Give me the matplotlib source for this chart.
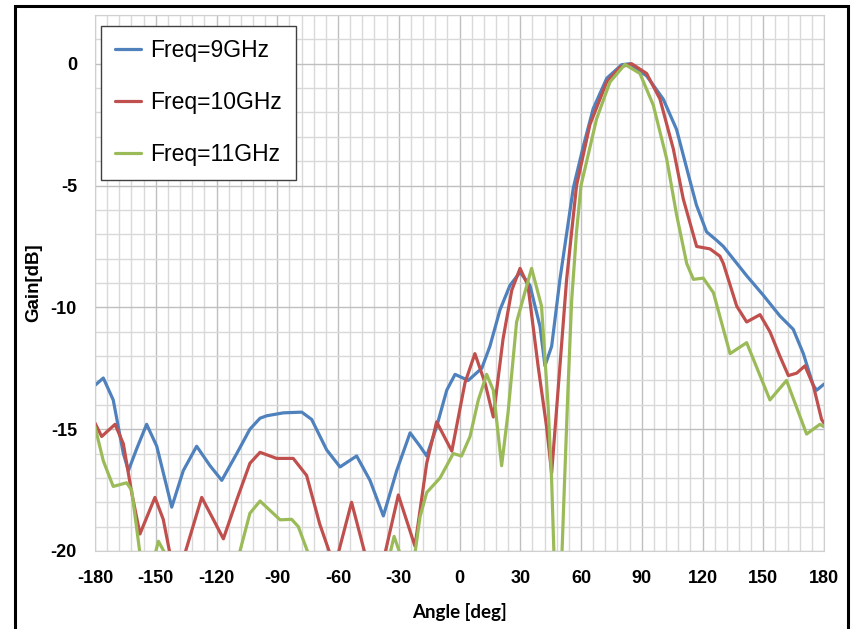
import matplotlib.pyplot as plt
from matplotlib.patches import Rectangle
from matplotlib.ticker import MultipleLocator

plt.rcParams['font.family'] = ['Liberation Sans', 'DejaVu Sans']
plt.rcParams['axes.unicode_minus'] = False

# 9 GHz
ang9 = [-180, -175.9, -171, -166, -163.5, -159.4, -154.5, -149.5, -142.1, -136.4, -129.8, -123.2, -117.4, -110,
        -103.5, -98.5, -95.2, -87, -77.9, -73, -65.6, -59, -50.8, -44.2, -37.6, -31, -24.4, -19.5, -16.2, -11.3,
        -6.3, -2.2, 4.3, 11, 15, 20, 24.9, 29.9, 34.8, 39.8, 42.2, 45.5, 49.6, 56.2, 61.1, 66, 72.7, 80.1, 84.2,
        92.4, 100.6, 107.2, 113.8, 117, 122, 127, 130.3, 141.8, 150, 158.2, 164.8, 169.8, 174.7, 176.4, 180]
gain9 = [-13.2, -12.9, -13.8, -16.0, -16.7, -15.8, -14.8, -15.7, -18.2, -16.7, -15.7, -16.5, -17.1, -16.0,
         -15.0, -14.55, -14.45, -14.33, -14.3, -14.6, -15.85, -16.55, -16.1, -17.1, -18.56, -16.7, -15.15, -15.7, -16.1, -14.9,
         -13.4, -12.75, -13.0, -12.5, -11.6, -10.1, -9.1, -8.56, -9.1, -10.8, -12.4, -11.6, -8.85, -5.1, -3.4, -1.85, -0.6, -0.04, 0.0,
         -0.5, -1.45, -2.7, -4.8, -5.8, -6.9, -7.25, -7.5, -8.7, -9.5, -10.35, -10.9, -11.9, -13.2, -13.4, -13.15]

# 10 GHz
ang10 = [-180, -176.7, -170.1, -166, -161.9, -157.8, -150.4, -146.3, -143, -139, -135.6, -127.3, -121.6, -116.6,
         -110, -103.5, -98.5, -90.3, -82.1, -75.5, -69, -64, -62, -59.9, -53.3, -46.7, -42, -36.8, -30.2, -22, -16.2,
         -11.3, -3.8, 2.7, 7.6, 12.6, 16.7, 21.5, 25.8, 29.9, 33.8, 38.8, 43, 45.5, 49.6, 52.9, 57.8, 64.4, 72.7, 79.3,
         85, 92.4, 99, 105.6, 110.5, 117.1, 123.7, 128.6, 130.3, 136.9, 141.8, 148.4, 153.3, 158.2, 162.4, 166.5,
         170.6, 174.7, 178.8, 180]
gain10 = [-14.75, -15.3, -14.8, -15.6, -17.6, -19.3, -17.8, -18.7, -20.1, -21.5, -20.1, -17.8, -18.7, -19.5,
          -17.9, -16.4, -15.95, -16.2, -16.2, -16.9, -18.9, -20.1, -20.8, -20.1, -18.0, -20.1, -21.5, -20.1, -17.7, -19.8, -16.4,
          -14.7, -15.9, -13.1, -11.9, -13.1, -14.5, -11.3, -9.3, -8.4, -9.1, -12.4, -14.9, -16.8, -12.4, -8.85, -5.0, -2.5, -0.75, -0.14,
          0.0, -0.4, -1.45, -3.5, -5.55, -7.5, -7.6, -7.9, -8.2, -9.95, -10.6, -10.3, -11.0, -12.0, -12.8, -12.7,
          -12.4, -13.2, -14.6, -14.75]

# 11 GHz
ang11 = [-180, -175.9, -171, -164.4, -161.9, -157.8, -153, -148.7, -145.4, -140, -110, -108.4, -103.5, -98.5,
         -88.6, -82.9, -79.6, -74.7, -70, -38, -34.3, -32.3, -29.4, -26, -22, -19.5, -16.2, -9.6, -3.1, 1.0, 5.2,
         9.3, 13.4, 16.7, 20.8, 24, 28.2, 35.6, 40.5, 43.8, 45.5, 48.5, 51.5, 53.5, 55.4, 57.8, 60, 67.7, 74.3, 81.7,
         89.1, 95.7, 102.3, 107.2, 112.2, 115.5, 120.4, 125.4, 133.6, 141.8, 153.3, 161.5, 171.4, 178, 180]
gain11 = [-14.9, -16.3, -17.35, -17.2, -17.5, -20.1, -21.0, -19.6, -20.1, -22.0, -22.0, -20.0, -18.45, -17.95,
          -18.72, -18.7, -19.0, -20.1, -22.0, -22.0, -20.1, -19.4, -20.1, -20.8, -20.1, -18.6, -17.6, -17.0, -16.0, -16.1, -15.3,
          -13.8, -12.75, -13.4, -16.5, -14.3, -10.6, -8.4, -9.95, -14.1, -17.1, -25.0, -18.0, -13.5, -9.7, -6.9, -5.0, -2.26, -0.75, -0.03,
          -0.4, -1.7, -3.9, -6.2, -8.2, -8.85, -8.8, -9.4, -11.9, -11.45, -13.8, -13.0, -15.2, -14.8, -14.9]

fig = plt.figure(figsize=(8.55, 6.29), dpi=100)
ax = fig.add_axes([95/855, 1 - 551/629, 729/855, 536/629])

style = dict(lw=2.3, solid_joinstyle='round', solid_capstyle='round')
ax.plot(ang9, gain9, color='#4F81BD', label='Freq=9GHz', **style)
ax.plot(ang10, gain10, color='#C0504D', label='Freq=10GHz', **style)
ax.plot(ang11, gain11, color='#9BBB59', label='Freq=11GHz', **style)

ax.set_xlim(-180, 180)
ax.set_ylim(-20, 2)
ax.xaxis.set_major_locator(MultipleLocator(30))
ax.xaxis.set_minor_locator(MultipleLocator(6))
ax.set_yticks([0, -5, -10, -15, -20])
ax.yaxis.set_minor_locator(MultipleLocator(1))
ax.grid(which='minor', color='#d9d9d9', lw=1)
ax.grid(which='major', color='#bfbfbf', lw=1)
ax.set_axisbelow(True)
ax.tick_params(which='both', length=0)
ax.tick_params(axis='y', pad=13, labelsize=13)
ax.tick_params(axis='x', pad=14, labelsize=13)
for lab in ax.get_xticklabels() + ax.get_yticklabels():
    lab.set_fontweight('bold')
for s in ax.spines.values():
    s.set_color('#d0d0d0')

ax.set_xlabel('Angle [deg]', fontsize=13.5, fontweight='bold', family=['Lato', 'DejaVu Sans'])
ax.xaxis.set_label_coords(0.5, -0.097)
ax.set_ylabel('Gain[dB]', fontsize=13.5, fontweight='bold')
ax.yaxis.set_label_coords(-0.073, 0.5)

leg = ax.legend(loc='upper left', bbox_to_anchor=(0.008, 0.98), fontsize=16.5, labelspacing=1.25,
                handlelength=1.15, handletextpad=0.4, borderpad=0.6, borderaxespad=0,
                fancybox=False, framealpha=1)
leg.get_frame().set_edgecolor('#404040')
leg.get_frame().set_linewidth(1)

fig.patches.append(Rectangle((15/855, -0.01), 833/855, 1.01 - 6/629, transform=fig.transFigure,
                             fill=False, edgecolor='black', lw=2.2))

fig.savefig('out.png', dpi=100)
